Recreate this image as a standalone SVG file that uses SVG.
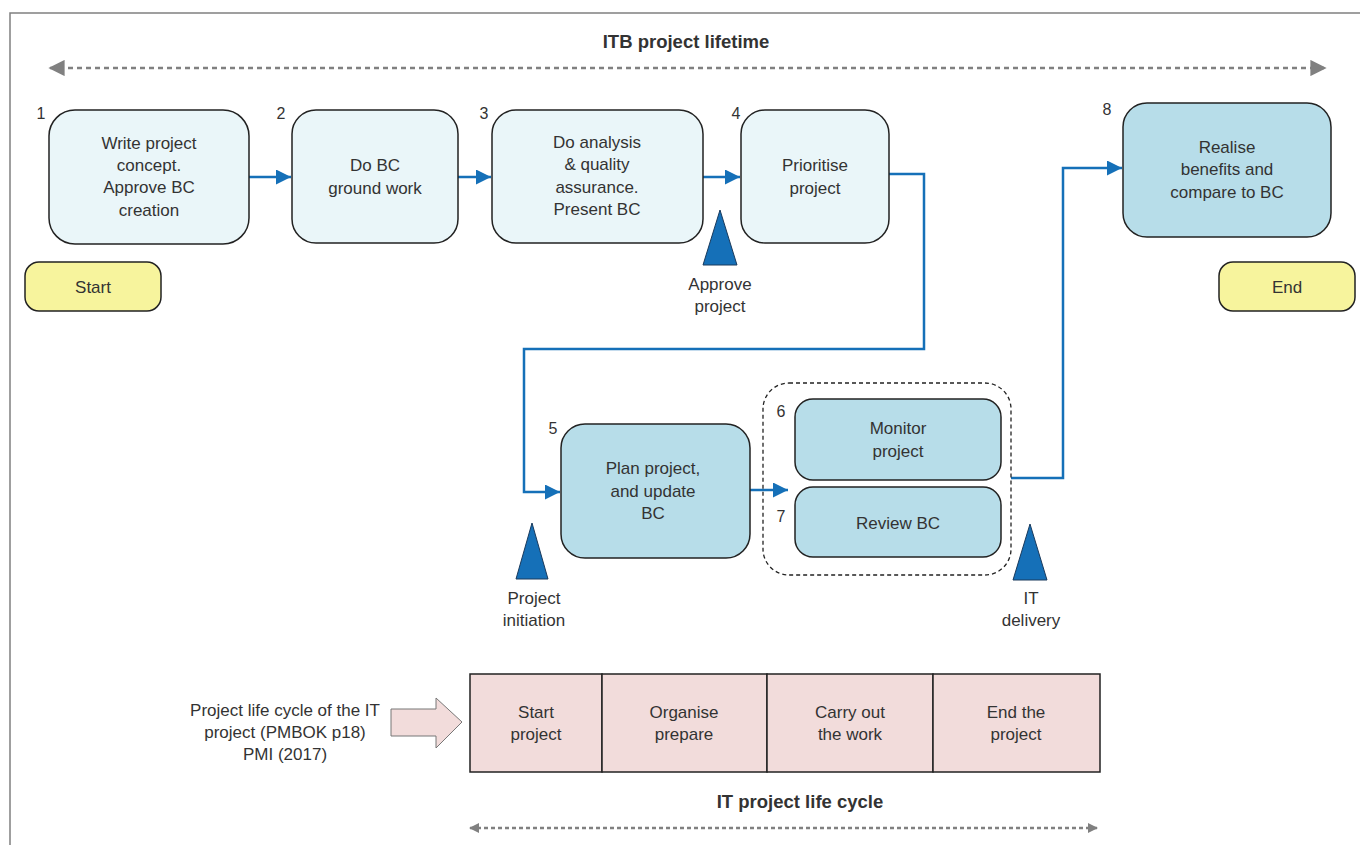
<svg xmlns="http://www.w3.org/2000/svg" width="1360" height="845" viewBox="0 0 1360 845">
<defs>
<style>
text{font-family:"Liberation Sans",Arial,sans-serif;font-size:17px;fill:#333;text-anchor:middle}
.b{font-weight:bold;font-size:18.5px}
.n{text-anchor:middle;font-size:16px}
.lt{fill:#eaf6f9;stroke:#222;stroke-width:1.5}
.dk{fill:#b7dde9;stroke:#222;stroke-width:1.5}
.ye{fill:#f7f49d;stroke:#222;stroke-width:1.5}
.pk{fill:#f2dcdb;stroke:#222;stroke-width:1.5}
.tri{fill:#1570b8;stroke:#1a3a5c;stroke-width:1}
.con{fill:none;stroke:#1570b8;stroke-width:2.5}
</style>
<marker id="ah" viewBox="0 0 10 10" refX="10" refY="5" markerWidth="6" markerHeight="6" orient="auto" markerUnits="strokeWidth"><path d="M0,0 L10,5 L0,10 Z" fill="#1570b8"/></marker>
<marker id="gh" viewBox="0 0 10 10" refX="9" refY="5" markerWidth="6.5" markerHeight="6.5" orient="auto-start-reverse" markerUnits="strokeWidth"><path d="M0,0 L10,5 L0,10 Z" fill="#808080"/></marker>
<marker id="gh2" viewBox="0 0 10 10" refX="9" refY="5" markerWidth="4" markerHeight="5" orient="auto-start-reverse" markerUnits="strokeWidth"><path d="M0,0 L10,5 L0,10 Z" fill="#808080"/></marker>
</defs>
<rect width="1360" height="845" fill="#fff"/>
<path d="M10,845 V13 H1360" fill="none" stroke="#808080" stroke-width="1.5"/>

<g id="title-top">
<text class="b" x="686" y="48">ITB project lifetime</text>
<line x1="50" y1="68" x2="1325" y2="68" stroke="#808080" stroke-width="2.5" stroke-dasharray="5,4" marker-start="url(#gh)" marker-end="url(#gh)"/>
</g>

<g id="connectors">
<line class="con" x1="249" y1="177" x2="291" y2="177" marker-end="url(#ah)"/>
<line class="con" x1="458" y1="177" x2="491" y2="177" marker-end="url(#ah)"/>
<line class="con" x1="703" y1="177" x2="740" y2="177" marker-end="url(#ah)"/>
<polyline class="con" points="889,174 924,174 924,349 524,349 524,492 560,492" marker-end="url(#ah)"/>
<line class="con" x1="744" y1="490" x2="788" y2="490" marker-end="url(#ah)"/>
<polyline class="con" points="1011,478 1063,478 1063,168 1122,168" marker-end="url(#ah)"/>
</g>

<g id="node1">
<rect class="lt" x="49" y="110" width="200" height="134" rx="26"/>
<text class="n" x="41" y="119">1</text>
<text x="149" y="149">Write project</text>
<text x="149" y="171">concept.</text>
<text x="149" y="193">Approve BC</text>
<text x="149" y="216">creation</text>
</g>
<g id="node2">
<rect class="lt" x="292" y="110" width="166" height="133" rx="24"/>
<text class="n" x="281" y="119">2</text>
<text x="375" y="171">Do BC</text>
<text x="375" y="194">ground work</text>
</g>
<g id="node3">
<rect class="lt" x="492" y="110" width="211" height="133" rx="24"/>
<text class="n" x="484" y="119">3</text>
<text x="597" y="148">Do analysis</text>
<text x="597" y="170">&amp; quality</text>
<text x="597" y="193">assurance.</text>
<text x="597" y="215">Present BC</text>
</g>
<g id="node4">
<rect class="lt" x="741" y="110" width="148" height="133" rx="24"/>
<text class="n" x="736" y="119">4</text>
<text x="815" y="171">Prioritise</text>
<text x="815" y="194">project</text>
</g>
<g id="node8">
<rect class="dk" x="1123" y="103" width="208" height="134" rx="24"/>
<text class="n" x="1107" y="115">8</text>
<text x="1227" y="153">Realise</text>
<text x="1227" y="175">benefits and</text>
<text x="1227" y="198">compare to BC</text>
</g>
<g id="start">
<rect class="ye" x="25" y="262" width="136" height="49" rx="14"/>
<text x="93" y="293">Start</text>
</g>
<g id="end">
<rect class="ye" x="1219" y="262" width="136" height="49" rx="14"/>
<text x="1287" y="293">End</text>
</g>
<g id="approve-project">
<polygon class="tri" points="720,210 737,265 703,265"/>
<text x="720" y="290">Approve</text>
<text x="720" y="312">project</text>
</g>
<g id="node5">
<rect class="dk" x="561" y="424" width="189" height="134" rx="24"/>
<text class="n" x="553" y="434">5</text>
<text x="653" y="474">Plan project,</text>
<text x="653" y="497">and update</text>
<text x="653" y="519">BC</text>
</g>
<g id="group67">
<rect x="763" y="383" width="248" height="192" rx="26" fill="none" stroke="#222" stroke-width="1.3" stroke-dasharray="4,3"/>
</g>
<g id="node6">
<rect class="dk" x="795" y="399" width="206" height="81" rx="18"/>
<text class="n" x="781" y="417">6</text>
<text x="898" y="434">Monitor</text>
<text x="898" y="457">project</text>
</g>
<g id="node7">
<rect class="dk" x="795" y="487" width="206" height="70" rx="18"/>
<text class="n" x="781" y="522">7</text>
<text x="898" y="529">Review BC</text>
</g>
<g id="project-initiation">
<polygon class="tri" points="532,523 548,579 516,579"/>
<text x="534" y="604">Project</text>
<text x="534" y="626">initiation</text>
</g>
<g id="it-delivery">
<polygon class="tri" points="1030,524 1047,580 1013,580"/>
<text x="1031" y="604">IT</text>
<text x="1031" y="626">delivery</text>
</g>

<g id="pmbok-label">
<text x="285" y="716">Project life cycle of the IT</text>
<text x="285" y="738">project (PMBOK p18)</text>
<text x="285" y="760">PMI (2017)</text>
<polygon points="391,709 436,709 436,698 462,722 436,748 436,736 391,736" fill="#f2dcdb" stroke="#777" stroke-width="1"/>
</g>
<g id="lifecycle">
<rect class="pk" x="470" y="674" width="132" height="98"/>
<rect class="pk" x="602" y="674" width="165" height="98"/>
<rect class="pk" x="767" y="674" width="166" height="98"/>
<rect class="pk" x="933" y="674" width="167" height="98"/>
<text x="536" y="718">Start</text>
<text x="536" y="740">project</text>
<text x="684" y="718">Organise</text>
<text x="684" y="740">prepare</text>
<text x="850" y="718">Carry out</text>
<text x="850" y="740">the work</text>
<text x="1016" y="718">End the</text>
<text x="1016" y="740">project</text>
</g>
<g id="title-bottom">
<text class="b" x="800" y="808">IT project life cycle</text>
<line x1="470" y1="828" x2="1097" y2="828" stroke="#808080" stroke-width="2.5" stroke-dasharray="4,3" marker-start="url(#gh2)" marker-end="url(#gh2)"/>
</g>
</svg>
